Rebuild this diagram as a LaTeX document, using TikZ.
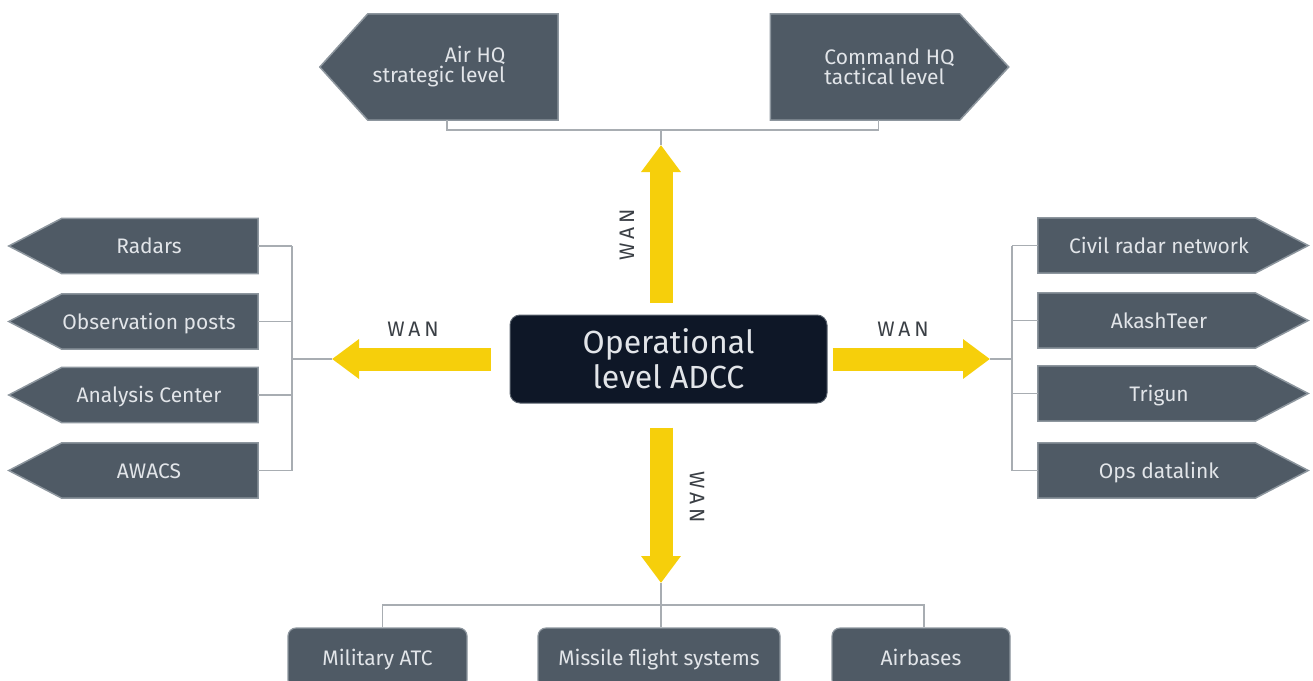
\documentclass[tikz,border=0pt]{standalone}
\usepackage{fontspec}
\setmainfont{Fira Sans}
\usepackage{tikz}
\usetikzlibrary{arrows.meta,positioning,calc,backgrounds}

\definecolor{boxgrey}{HTML}{4F5A65}
\definecolor{boxedge}{HTML}{8D969E}
\definecolor{boxtext}{HTML}{E2E5E9}
\definecolor{adccnavy}{HTML}{0E1727}
\definecolor{wanyellow}{HTML}{F6CF0B}
\definecolor{linkgrey}{HTML}{A8ADB2}
\definecolor{wantext}{HTML}{3A3F45}

\tikzset{
  boxfont/.style={font=\fontsize{21}{20}\selectfont, text=boxtext},
  oneline/.style={boxfont, text height=19pt, text depth=4pt},
  hqbox/.style={boxfont, minimum width=238pt, minimum height=106pt, inner sep=0pt},
  leftbox/.style={oneline, minimum width=249pt, minimum height=55pt, inner sep=0pt,
    execute at begin node={\hspace*{31pt}}},
  rightbox/.style={oneline, minimum width=270pt, minimum height=55pt, inner sep=0pt,
    execute at end node={\hspace*{28pt}}},
  basebox/.style={oneline, fill=boxgrey, draw=boxedge, line width=1.2pt,
    rounded corners=8pt, minimum height=60pt, inner sep=0pt},
  pentfill/.style={fill=boxgrey, draw=boxedge, line width=1.5pt},
  adccbox/.style={fill=adccnavy, draw=boxedge!60!adccnavy, line width=1pt,
    rounded corners=10pt, minimum width=317pt, minimum height=88pt,
    text=boxtext, align=center, font=\fontsize{32}{35}\selectfont},
  wanarrow/.style={wanyellow, line width=23pt,
    -{Triangle[width=38pt, length=27pt]}},
  wanlabel/.style={text=wantext, font=\fontsize{21}{22}\selectfont\addfontfeature{LetterSpace=18}},
  link/.style={linkgrey, line width=1.2pt}
}

\begin{document}
\begin{tikzpicture}[x=1pt, y=-1pt]
  \useasboundingbox (0,0) rectangle (1313,680);
  \clip (0,0) rectangle (1313,680);

  % centre
  \node[adccbox] (adcc) at (668.5,359) {Operational\\level ADCC};

  % top level
  \node[hqbox, align=right] (airhq) at (439,67) {Air HQ\\strategic level};
  \node[hqbox, align=left] (cmdhq) at (889.5,67) {Command HQ\\tactical level};

  % sensors on the left
  \node[leftbox] (radars)   at (133.5,246)   {Radars};
  \node[leftbox] (obsposts) at (133.5,321.5) {Observation posts};
  \node[leftbox] (analysis) at (133.5,395)   {Analysis Center};
  \node[leftbox] (awacs)    at (133.5,470.5) {AWACS};

  % networks on the right
  \node[rightbox] (civilradar) at (1173,245.5) {Civil radar network};
  \node[rightbox] (akashteer)  at (1173,320.5) {AkashTeer};
  \node[rightbox] (trigun)     at (1173,393.5) {Trigun};
  \node[rightbox] (opslink)    at (1173,470.5) {Ops datalink};

  % users at the bottom
  \node[basebox, minimum width=179pt] (milatc)   at (377.5,658) {Military ATC};
  \node[basebox, minimum width=242pt] (missile)  at (659,658)   {Missile flight systems};
  \node[basebox, minimum width=178pt] (airbases) at (921,658)   {Airbases};

  % pentagon outlines behind the text
  \begin{scope}[on background layer]
    \path[pentfill] (airhq.north east) -- ([xshift=48pt]airhq.north west) -- (airhq.west)
      -- ([xshift=48pt]airhq.south west) -- (airhq.south east) -- cycle;
    \path[pentfill] (cmdhq.north west) -- ([xshift=-49pt]cmdhq.north east) -- (cmdhq.east)
      -- ([xshift=-49pt]cmdhq.south east) -- (cmdhq.south west) -- cycle;
    \foreach \n in {radars,obsposts,analysis,awacs}
      \path[pentfill] (\n.north east) -- ([xshift=53pt]\n.north west) -- (\n.west)
        -- ([xshift=53pt]\n.south west) -- (\n.south east) -- cycle;
    \foreach \n in {civilradar,akashteer,trigun,opslink}
      \path[pentfill] (\n.north west) -- ([xshift=-53pt]\n.north east) -- (\n.east)
        -- ([xshift=-53pt]\n.south east) -- (\n.south west) -- cycle;
  \end{scope}

  % arrow tips and hubs
  \coordinate (uptip)    at (661,145);
  \coordinate (downtip)  at (661,583);
  \coordinate (lefttip)  at (332,359);
  \coordinate (righttip) at (990,359);
  \coordinate (tophub)   at (661,130);
  \coordinate (bothub)   at (661,605);
  \coordinate (lefthub)  at (292,359);
  \coordinate (righthub) at (1012,359);

  % WAN links
  \draw[wanarrow, shorten <=12pt] (adcc.north -| uptip) -- (uptip);
  \draw[wanarrow, shorten <=24pt] (adcc.south -| downtip) -- (downtip);
  \draw[wanarrow, shorten <=19pt] (adcc.west) -- (lefttip);
  \draw[wanarrow, shorten <=5pt] (adcc.east) -- (righttip);

  \node[wanlabel, rotate=90]  (wanup)    at (627,235) {WAN};
  \node[wanlabel, rotate=-90] (wandown)  at (697,497) {WAN};
  \node[wanlabel]             (wanleft)  at (413,329) {WAN};
  \node[wanlabel]             (wanright) at (903,329) {WAN};

  % connectors
  \draw[link] ([xshift=8pt]airhq.south) |- (tophub) -| ([xshift=-11pt]cmdhq.south);
  \draw[link] (tophub) -- (uptip);

  \foreach \n in {radars,obsposts,analysis,awacs}
    \draw[link] (\n.east) -- (\n.east -| lefthub);
  \draw[link] (radars.east -| lefthub) -- (awacs.east -| lefthub);
  \draw[link] (lefthub) -- (lefttip);

  \foreach \n in {civilradar,akashteer,trigun,opslink}
    \draw[link] (\n.west) -- (\n.west -| righthub);
  \draw[link] (civilradar.west -| righthub) -- (opslink.west -| righthub);
  \draw[link] (righttip) -- (righthub);

  \draw[link] (downtip) -- (bothub);
  \draw[link] ([xshift=5pt]milatc.north) |- (bothub) -| ([xshift=3pt]airbases.north);
  \draw[link] (bothub) -- (bothub |- missile.north);
\end{tikzpicture}
\end{document}
